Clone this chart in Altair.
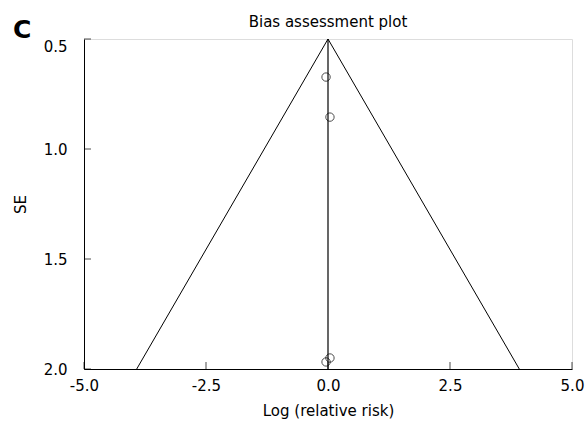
import altair as alt
import pandas as pd

# Data
panel_label = "C"
title_text = "Bias assessment plot"
x_title = "Log (relative risk)"
y_title = "SE"

study_log_rr = [-0.04, 0.04, -0.04, 0.04]
study_se = [0.673, 0.855, 1.968, 1.950]

funnel_x = [-3.92, 0.0, 3.92]
funnel_se = [2.0, 0.5, 2.0]

center_x = [0.0, 0.0]
center_se = [0.5, 2.0]

x_ticks = [-5.0, -2.5, 0.0, 2.5, 5.0]
y_ticks = [0.5, 1.0, 1.5, 2.0]

FONT = "DejaVu Sans"
FS = 15

points_df = pd.DataFrame({"x": study_log_rr, "se": study_se})
funnel_df = pd.DataFrame({"x": funnel_x, "se": funnel_se, "order": [0, 1, 2]})
center_df = pd.DataFrame({"x": center_x, "se": center_se})
label_df = pd.DataFrame({"t": [panel_label]})
xt_df = pd.DataFrame({"x": x_ticks})
yt_df = pd.DataFrame({"se": y_ticks})

xscale = alt.Scale(domain=[-5, 5], nice=False, zero=False)
yscale = alt.Scale(domain=[0.5, 2.0], nice=False, zero=False, reverse=True)

label_expr = "(datum.value < 0 ? '-' : '') + format(abs(datum.value), '.1f')"

xaxis = alt.Axis(
    values=x_ticks, labelExpr=label_expr, title=x_title, grid=False,
    ticks=False, labelPadding=9, titlePadding=10,
    labelFontSize=FS, titleFontSize=FS, labelFont=FONT, titleFont=FONT,
    titleFontWeight="normal", labelColor="black", titleColor="black",
    domainColor="black", labelFlush=False,
)
yaxis = alt.Axis(
    values=y_ticks, labelExpr=label_expr, title=y_title, grid=False,
    ticks=False, labelPadding=17, titlePadding=15,
    labelFontSize=FS, titleFontSize=FS, labelFont=FONT, titleFont=FONT,
    titleFontWeight="normal", labelColor="black", titleColor="black",
    domainColor="black",
    labelBaseline=alt.ExprRef(expr="datum.value == 0.5 ? 'top' : 'middle'"),
)

funnel = alt.Chart(funnel_df).mark_line(color="black", strokeWidth=1).encode(
    x=alt.X("x:Q", scale=xscale, axis=xaxis),
    y=alt.Y("se:Q", scale=yscale, axis=yaxis),
    order="order:Q",
)

center = alt.Chart(center_df).mark_line(color="black", strokeWidth=1.2).encode(
    x=alt.X("x:Q", scale=xscale),
    y=alt.Y("se:Q", scale=yscale),
)

points = alt.Chart(points_df).mark_point(
    shape="circle", filled=False, color="black", size=70, strokeWidth=1
).encode(
    x=alt.X("x:Q", scale=xscale),
    y=alt.Y("se:Q", scale=yscale),
)

xticks = alt.Chart(xt_df).mark_tick(
    orient="vertical", size=7, thickness=1, color="black", yOffset=-3.5
).encode(
    x=alt.X("x:Q", scale=xscale),
    y=alt.datum(2.0, scale=yscale),
)

yticks = alt.Chart(yt_df).mark_tick(
    orient="horizontal", size=7, thickness=1, color="black", xOffset=3.5
).encode(
    y=alt.Y("se:Q", scale=yscale),
    x=alt.datum(-5.0, scale=xscale),
)

label = alt.Chart(label_df).mark_text(
    font=FONT, fontSize=25, fontWeight="bold", align="left", baseline="alphabetic",
    color="black",
).encode(
    x=alt.value(-71), y=alt.value(-1), text="t:N"
)

chart = alt.layer(funnel, center, points, xticks, yticks, label).properties(
    width=488, height=330,
    title=alt.TitleParams(
        text=title_text, font=FONT, fontSize=FS, fontWeight="normal",
        anchor="middle", color="black", offset=-12,
    ),
    autosize=alt.AutoSizeParams(type="none"),
    padding={"left": 84, "top": 39, "right": 13, "bottom": 56},
).configure_view(stroke=None).configure(background="white")

chart.save("out.html", embed_options={"renderer": "svg", "actions": False})
